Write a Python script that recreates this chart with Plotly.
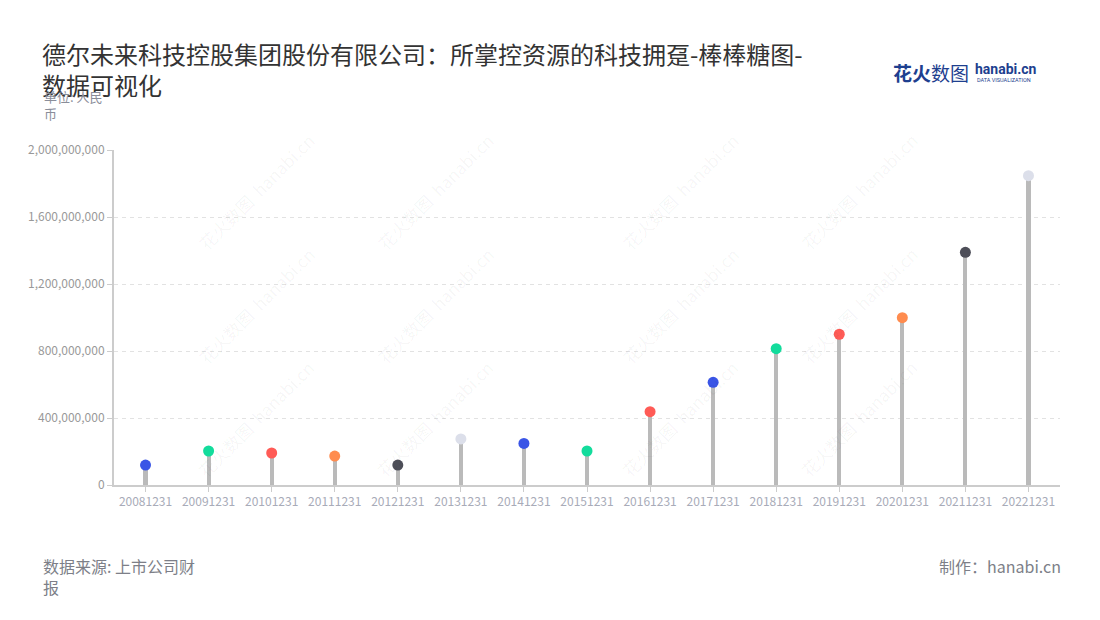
import plotly.graph_objects as go

categories = ["20081231", "20091231", "20101231", "20111231", "20121231",
              "20131231", "20141231", "20151231", "20161231", "20171231",
              "20181231", "20191231", "20201231", "20211231", "20221231"]
values = [119e6, 203e6, 191e6, 173e6, 119e6,
          275e6, 248e6, 203e6, 438e6, 613e6,
          814e6, 900e6, 999e6, 1389e6, 1847e6]
tick_vals = [0, 400e6, 800e6, 1200e6, 1600e6, 2000e6]

BLUE, GREEN, RED, ORANGE, DARK, LIGHT = "#3a55e6", "#13dc9c", "#ff5b56", "#ff8c4f", "#4d4e58", "#dcdfea"
point_colors = [BLUE, GREEN, RED, ORANGE, DARK, LIGHT, BLUE, GREEN, RED,
                BLUE, GREEN, RED, ORANGE, DARK, LIGHT]
FONT = "Noto Sans CJK SC"

fig = go.Figure()
fig.add_trace(go.Bar(x=categories, y=values, width=0.065,
                     marker=dict(color="#bababa", line=dict(width=0)),
                     hoverinfo="skip"))
fig.add_trace(go.Scatter(x=categories, y=values, mode="markers",
                         marker=dict(color=point_colors, size=11, line=dict(width=0))))

# plot area in screen pixels: x 114..1060, y 150..485
def px(x):
    return (x - 114) / 946.0

def py(y):
    return (485 - y) / 335.0

# faint watermarks
wm = []
for wx in [190, 435, 680, 925]:
    for wy in [125, 305, 485]:
        wm.append(dict(xref="paper", yref="paper", x=px(wx), y=py(wy), text="花火数图  hanabi.cn",
                       showarrow=False, textangle=-45,
                       font=dict(size=17, color="rgba(0,0,0,0.045)", family=FONT)))

annotations = wm + [
    dict(xref="paper", yref="paper", x=px(42), y=py(85), xanchor="left", yanchor="top",
         text="单位: 人民<br>币", showarrow=False, align="left",
         font=dict(size=13, color="#8a8d99", family=FONT)),
    dict(xref="paper", yref="paper", x=px(41), y=py(552), xanchor="left", yanchor="top",
         text="数据来源: 上市公司财<br>报", showarrow=False, align="left",
         font=dict(size=16, color="#7d7f88", family=FONT)),
    dict(xref="paper", yref="paper", x=px(1063), y=py(552), xanchor="right", yanchor="top",
         text="制作：hanabi.cn", showarrow=False, align="right",
         font=dict(size=16, color="#7d7f88", family=FONT)),
    dict(xref="paper", yref="paper", x=px(891), y=py(73), xanchor="left", yanchor="middle",
         text="<b>花火</b>数图", showarrow=False,
         font=dict(size=19, color="#1e3f8f", family=FONT)),
    dict(xref="paper", yref="paper", x=px(973), y=py(69), xanchor="left", yanchor="middle",
         text="<b>hanabi.cn</b>", showarrow=False,
         font=dict(size=14, color="#1e3f8f", family="Roboto")),
    dict(xref="paper", yref="paper", x=px(975), y=py(80), xanchor="left", yanchor="middle",
         text="DATA VISUALIZATION", showarrow=False,
         font=dict(size=5.5, color="#1e3f8f", family="Roboto")),
]

fig.update_layout(
    width=1100, height=620,
    margin=dict(l=106, r=48, t=142, b=143),
    paper_bgcolor="white", plot_bgcolor="white",
    showlegend=False,
    font=dict(family=FONT),
    title=dict(text="德尔未来科技控股集团股份有限公司：所掌控资源的科技拥趸-棒棒糖图-<br>数据可视化",
               x=34 / 1100, xanchor="left", y=1 - 56 / 620, yanchor="top", pad=dict(t=0, l=0),
               font=dict(size=24, color="#333333", family=FONT)),
    xaxis=dict(type="category", range=[-0.5, 14.5], showline=True, linecolor="#cccccc", linewidth=2,
               ticks="outside", ticklen=5, tickcolor="#cccccc", showgrid=False,
               tickfont=dict(size=12, color="#a8abb8", family=FONT)),
    yaxis=dict(range=[0, 2000e6], tickvals=tick_vals, tickformat=",", showline=True,
               linecolor="#cccccc", linewidth=2, ticks="outside", ticklen=5, tickcolor="#cccccc",
               showgrid=True, gridcolor="#e2e2e2", griddash="4px,4px", zeroline=False,
               tickfont=dict(size=12, color="#999999", family=FONT)),
    annotations=annotations,
    bargap=0,
)

fig.write_html("out.html")
